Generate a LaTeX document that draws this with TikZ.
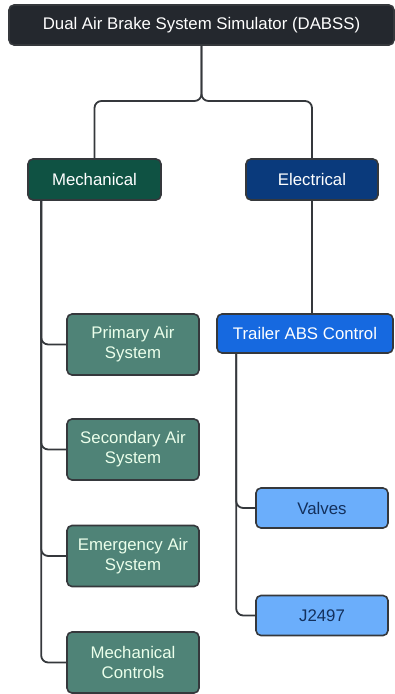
\documentclass[tikz,border=0pt]{standalone}
\usepackage{fontspec}
\setmainfont{Liberation Sans}
\definecolor{topfill}{HTML}{24282E}
\definecolor{mechfill}{HTML}{0F5243}
\definecolor{elecfill}{HTML}{0A3A7C}
\definecolor{subfill}{HTML}{4F8377}
\definecolor{absfill}{HTML}{1669E0}
\definecolor{leaffill}{HTML}{6BAEFB}
\definecolor{leaftext}{HTML}{13305C}
\definecolor{edge}{HTML}{35383C}
\tikzset{
  box/.style={draw=edge,line width=1.6pt,rounded corners=5pt,inner sep=0pt,
    align=center,font=\fontsize{16.8}{20}\selectfont},
  rootbox/.style={box,fill=topfill,text=white,minimum width=385pt,minimum height=40pt},
  mechbox/.style={box,fill=mechfill,text=white,minimum width=133pt,minimum height=41pt},
  elecbox/.style={box,fill=elecfill,text=white,minimum width=132pt,minimum height=41pt},
  subbox/.style={box,fill=subfill,text=white!92!green,minimum width=132pt,minimum height=61pt},
  absbox/.style={box,fill=absfill,text=white,minimum width=176pt,minimum height=39pt},
  leafbox/.style={box,fill=leaffill,text=leaftext,minimum width=132pt,minimum height=40pt},
  conn/.style={draw=edge,line width=1.8pt,rounded corners=7pt}
}
\begin{document}
\begin{tikzpicture}[x=1pt,y=-1pt]
  \useasboundingbox (0,0) rectangle (395,694);
  % top level
  \node[rootbox] (dabss) at (201.5,25) {Dual Air Brake System Simulator (DABSS)};
  \node[mechbox] (mech) at (94.5,179.5) {Mechanical};
  \node[elecbox] (elec) at (312,179.5) {Electrical};
  % mechanical side
  \node[subbox] (prim) at (133,344.5) {Primary Air\\System};
  \node[subbox] (sec) at (133,449.5) {Secondary Air\\System};
  \node[subbox] (emer) at (133,556) {Emergency Air\\System};
  \node[subbox] (mctl) at (133,662.5) {Mechanical\\Controls};
  % electrical side
  \node[absbox] (abs) at (305,333.5) {Trailer ABS Control};
  \node[leafbox] (valves) at (322,508) {Valves};
  \node[leafbox] (j2497) at (322,615.5) {J2497};
  % connectors
  \coordinate (split) at (dabss.south |- 0,101);
  \draw[conn] (dabss.south) -- (split) -| (mech.north);
  \draw[conn] (dabss.south) -- (split) -| (elec.north);
  \coordinate (mtrunk) at ([xshift=14pt]mech.south west);
  \foreach \c in {prim,sec,emer,mctl}
    \draw[conn] (mtrunk) |- (\c.west);
  \draw[conn] (elec.south) -- (abs.north -| elec.south);
  \coordinate (etrunk) at ([xshift=20pt]abs.south west);
  \foreach \c in {valves,j2497}
    \draw[conn] (etrunk) |- (\c.west);
\end{tikzpicture}
\end{document}
